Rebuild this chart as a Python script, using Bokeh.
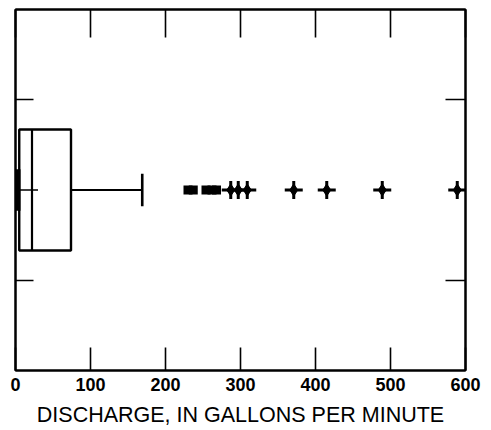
from bokeh.plotting import figure
from bokeh.models import Range1d, LinearAxis, FixedTicker
from bokeh.embed import file_html
from bokeh.resources import INLINE

# Data (gallons per minute)
x_ticks = [0, 100, 200, 300, 400, 500, 600]
lower_whisker = [2]
q1 = [5]
median = [22]
mean_val = [30]
q3 = [74]
upper_whisker = [169]
outliers_dash = [230, 237, 254, 262, 268]
outliers_star = [287, 297, 309, 371, 415, 489, 589]
x_title = "DISCHARGE, IN GALLONS PER MINUTE"
box_pos = 2.0
box_half = 0.67

FONT = "Liberation Sans"

p = figure(width=491, height=430, output_backend="svg", toolbar_location=None,
           x_range=Range1d(0, 600), y_range=Range1d(0, 4),
           min_border_left=15, min_border_right=26, min_border_top=9, min_border_bottom=60,
           x_axis_location=None, y_axis_location=None)
p.grid.visible = False
p.outline_line_color = "black"
p.outline_line_width = 2
p.background_fill_color = "white"
p.border_fill_color = "white"

def mk_xaxis(loc, tick_in, labels):
    ax = LinearAxis(ticker=FixedTicker(ticks=x_ticks))
    ax.major_tick_in = tick_in
    ax.major_tick_out = 0
    ax.minor_tick_line_color = None
    ax.major_tick_line_width = 1.6
    ax.axis_line_width = 2
    if labels:
        ax.major_label_text_font = FONT
        ax.major_label_text_font_size = "18px"
        ax.major_label_text_font_style = "bold"
        ax.major_label_text_color = "black"
        ax.major_label_standoff = 7
        ax.axis_label = x_title
        ax.axis_label_text_font = FONT
        ax.axis_label_text_font_size = "21.5px"
        ax.axis_label_text_font_style = "normal"
        ax.axis_label_text_color = "black"
        ax.axis_label_standoff = 9
    else:
        ax.major_label_text_font_size = "0px"
        ax.major_label_text_color = None
    p.add_layout(ax, loc)

def mk_yaxis(loc, tick_in):
    ax = LinearAxis(ticker=FixedTicker(ticks=[1, 3]))
    ax.major_tick_in = tick_in
    ax.major_tick_out = 0
    ax.minor_tick_line_color = None
    ax.major_tick_line_width = 1.6
    ax.axis_line_width = 2
    ax.major_label_text_font_size = "0px"
    ax.major_label_text_color = None
    p.add_layout(ax, loc)

mk_xaxis("below", 23, True)
mk_xaxis("above", 28, False)
mk_yaxis("left", 18)
mk_yaxis("right", 20)

y = [box_pos]
# box
p.quad(left=q1, right=q3, bottom=[box_pos - box_half], top=[box_pos + box_half],
       fill_color=None, line_color="black", line_width=2.4)
# median
p.segment(x0=median, x1=median, y0=[box_pos - box_half], y1=[box_pos + box_half],
          line_color="black", line_width=2.2)
# mean / low line
p.segment(x0=lower_whisker, x1=mean_val, y0=y, y1=y, line_color="black", line_width=1.5)
# upper whisker
p.segment(x0=q3, x1=upper_whisker, y0=y, y1=y, line_color="black", line_width=2)
p.segment(x0=upper_whisker, x1=upper_whisker, y0=[box_pos - 0.18], y1=[box_pos + 0.18],
          line_color="black", line_width=2.6)
# lower whisker blob
p.segment(x0=lower_whisker, x1=lower_whisker, y0=[box_pos - 0.23], y1=[box_pos + 0.23],
          line_color="black", line_width=7)
# outliers
p.scatter(x=outliers_dash, y=[box_pos] * len(outliers_dash), marker="dash", size=9,
          line_color="black", line_width=9, line_cap="butt")
p.scatter(x=outliers_star, y=[box_pos] * len(outliers_star), marker="diamond", size=12,
          fill_color="black", line_color="black", line_width=1)
p.scatter(x=outliers_star, y=[box_pos] * len(outliers_star), marker="cross", size=18,
          line_color="black", line_width=3)

open("out.html", "w").write(file_html(p, INLINE))
